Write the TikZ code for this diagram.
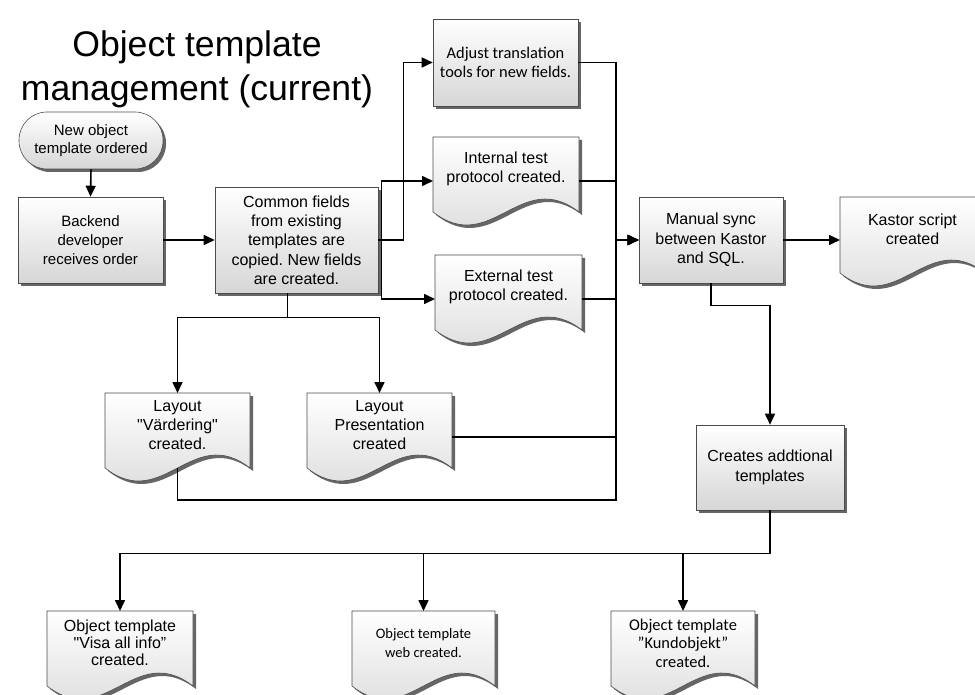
\documentclass[tikz,border=0pt]{standalone}
\usepackage{fontspec}
\setmainfont{Liberation Sans}[Ligatures=TeXOff]
\newfontfamily\calib{Carlito}[Ligatures=TeXOff]
\usetikzlibrary{arrows.meta,shadows,calc}

\tikzset{
  conn/.style={line width=1.6pt, draw=black},
  arr/.style={conn, -{Triangle[length=11pt,width=10pt]}},
  procbox/.style={draw=black!70, line width=0.6pt, top color=white, bottom color=black!16,
    inner sep=1pt, align=center, font=\fontsize{16}{19.3}\selectfont,
    drop shadow={shadow xshift=3pt, shadow yshift=-3pt, fill=black!60, opacity=1}},
  docshade/.style={draw=black!70, line width=0.6pt, top color=white, bottom color=black!16},
  docshadow/.style={fill=black!60},
  docframe/.style={inner sep=0pt, outer sep=0pt}
}

% document symbol: #1 name, #2 left, #3 top, #4 right, #5 lowest point of the wave,
% #6 font, #7 text
\newcommand\docnode[7]{%
  \fill[docshadow, xshift=3pt, yshift=-3pt] (#2,#3) -- (#4,#3) -- (#4,#5-13)
    .. controls ({#2+0.6*(#4-#2)},#5-58) and ({#2+0.4*(#4-#2)},#5+32) .. (#2,#5-13) -- cycle;
  \path[docshade] (#2,#3) -- (#4,#3) -- (#4,#5-13)
    .. controls ({#2+0.6*(#4-#2)},#5-58) and ({#2+0.4*(#4-#2)},#5+32) .. (#2,#5-13) -- cycle;
  \node[docframe, minimum width={(#4-#2)*1pt}, minimum height={(#5-#3)*1pt}]
    (#1) at ({(#2+#4)/2},{(#3+#5)/2}) {};
  \node[font={#6}, align=center, inner sep=0pt] (#1-txt) at ([yshift=12pt]#1.center) {#7};
}

\begin{document}
\frenchspacing
\begin{tikzpicture}[x=1pt,y=-1pt]
\useasboundingbox (0,0) rectangle (975,695);

% title
\node[font=\fontsize{35.6}{44}\selectfont, align=center] (title) at (197,69)
  {Object template\\management (current)};

% process boxes
\node[procbox, rounded corners=28pt, minimum width=144pt, minimum height=57pt,
  font=\fontsize{15}{18}\selectfont] (start) at (91,140.5) {New object\\template ordered};
\node[procbox, minimum width=145pt, minimum height=86pt,
  font=\fontsize{15}{19}\selectfont] (backend) at (90.5,240) {Backend\\developer\\receives order};
\node[procbox, minimum width=163pt, minimum height=106pt] (common) at (296.5,240)
  {Common fields\\from existing\\templates are\\copied. New fields\\are created.};
\node[procbox, minimum width=145pt, minimum height=87pt,
  font=\calib\fontsize{16.4}{18.3}\selectfont] (adjust) at (505.5,62.5)
  {Adjust translation\\tools for new fields.};
\node[procbox, minimum width=144pt, minimum height=86pt] (manual) at (711,240)
  {Manual sync\\between Kastor\\and SQL.};
\node[procbox, minimum width=148pt, minimum height=85pt] (creates) at (770,467.5)
  {Creates addtional\\templates};

% documents
\docnode{intl}{433}{137}{579}{225}{\fontsize{16}{19}\selectfont}{Internal test\\protocol created.}
\docnode{extl}{435}{255}{582}{343}{\fontsize{16}{19}\selectfont}{External test\\protocol created.}
\docnode{kastor}{840}{197}{985}{286}{\fontsize{16}{19}\selectfont}{Kastor script\\created}
\docnode{vard}{105}{393}{250}{481}{\fontsize{16}{19}\selectfont}{Layout\\"Värdering"\\created.}
\docnode{pres}{307}{393}{452}{481}{\fontsize{16}{19}\selectfont}{Layout\\Presentation\\created}
\docnode{visa}{47}{611}{193}{699}{\fontsize{16}{17}\selectfont}{Object template\\"Visa all info”\\created.}
\docnode{web}{352}{611}{495}{699}{\calib\fontsize{14.5}{19}\selectfont}{Object template\\web created.}
\docnode{kund}{611}{611}{755}{699}{\calib\fontsize{16.4}{18.5}\selectfont}{Object template\\”Kundobjekt”\\created.}

% connectors
\draw[arr] (start.south) -- (backend.north);
\draw[arr] (backend.east) -- (common.west);
\draw[arr] (common.east) -- ++(25,0) |- (adjust.west);
\draw[arr] (common.east) -- ++(3,0) |- (intl.west);
\draw[arr] (common.east) -- ++(3,0) |- (extl.west);
\draw[arr] ([xshift=-9pt]common.south) -- ++(0,24) -| (vard.north);
\draw[arr] ([xshift=-9pt]common.south) -- ++(0,24) -| (pres.north);

\coordinate (bus) at (616,240);
\draw[arr] (adjust.east) -| (bus) -- (manual.west);
\draw[arr] (intl.east) -| (bus) -- (manual.west);
\draw[arr] (extl.east) -| (bus) -- (manual.west);
\draw[arr] (pres.east) -| (bus) -- (manual.west);
\draw[arr] ([yshift=13pt]vard.south) -- ++(0,32) -| (bus) -- (manual.west);

\draw[arr] (manual.east) -- (manual.east -| kastor.west);
\draw[arr] (manual.south) -- ++(0,22) -| (creates.north);
\draw[arr] (creates.south) -- ++(0,43) -| (visa.north);
\draw[arr] (creates.south) -- ++(0,43) -| (web.north);
\draw[arr] (creates.south) -- ++(0,43) -| (kund.north);
\end{tikzpicture}
\end{document}
